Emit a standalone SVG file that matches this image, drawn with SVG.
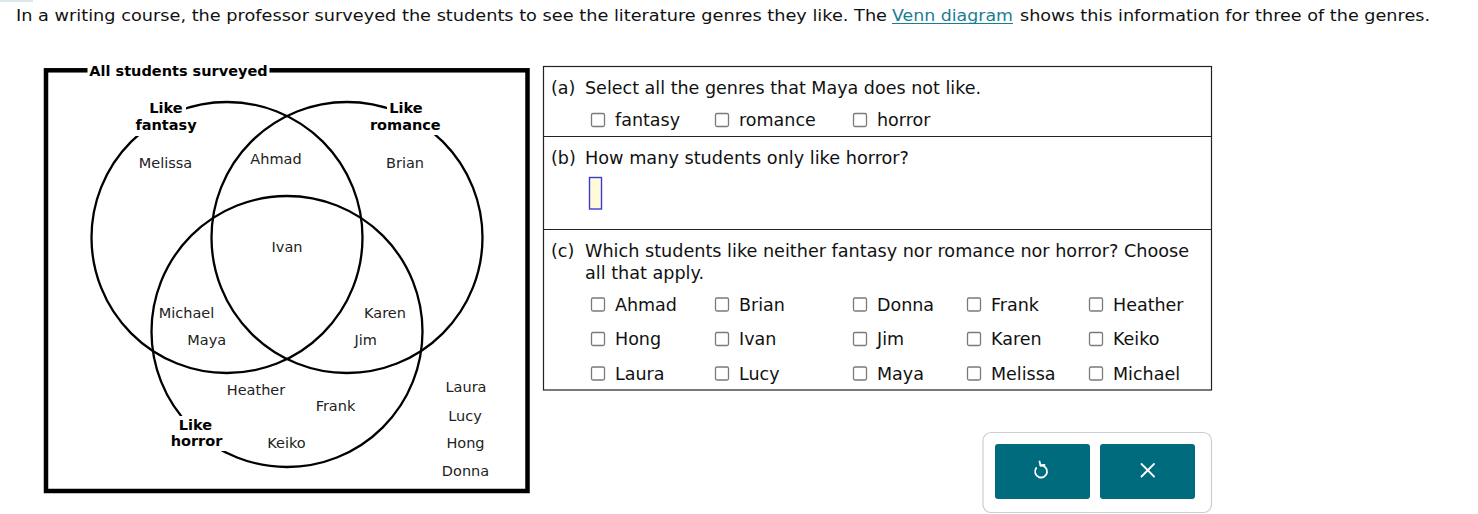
<svg xmlns="http://www.w3.org/2000/svg" width="1478" height="514" viewBox="0 0 1478 514">
<style>
.t{font-family:"DejaVu Sans","Liberation Sans",sans-serif;fill:#111}
.hd{font-size:16.5px}
.nm{font-size:14.5px;fill:#222;text-anchor:middle}
.lb{font-size:14.5px;font-weight:bold;fill:#000;text-anchor:middle}
.pn{font-size:17.5px;fill:#111}
.set{fill:none;stroke:#000;stroke-width:2.3}
.cb{fill:#fff;stroke:#7a7a7a;stroke-width:1.3}
.bg{fill:#fff}
.btn{fill:#006b7c}
.ic{fill:none;stroke:#fff;stroke-width:1.8;stroke-linecap:round;stroke-linejoin:round}
</style>
<rect x="0" y="0" width="1478" height="514" fill="#fff"/>
<rect x="0" y="0" width="33" height="2" fill="#dde6ea"/>

<g id="header">
<text class="t hd" x="16" y="20.5" textLength="871" lengthAdjust="spacingAndGlyphs">In a writing course, the professor surveyed the students to see the literature genres they like. The</text>
<text class="t hd" x="892" y="20.5" textLength="121" lengthAdjust="spacingAndGlyphs" style="fill:#1a7d92">Venn diagram</text>
<line x1="892" y1="23.5" x2="1013" y2="23.5" stroke="#1a7d92" stroke-width="1.2"/>
<text class="t hd" x="1020" y="20.5" textLength="410" lengthAdjust="spacingAndGlyphs">shows this information for three of the genres.</text>
</g>

<g id="venn">
<g id="universe">
<rect x="46" y="70.3" width="481.5" height="420.7" fill="none" stroke="#000" stroke-width="4.5"/>
<rect class="bg" x="87.5" y="62" width="182" height="17"/>
<text class="t lb" x="178.5" y="75.7">All students surveyed</text>
</g>
<g id="connectors">
<circle class="set" cx="227" cy="237.5" r="135.5"/>
<circle class="set" cx="347" cy="237.5" r="135.5"/>
<circle class="set" cx="287" cy="331.5" r="135.5"/>
</g>
<g id="set-fantasy">
<rect class="bg" x="146" y="99" width="40" height="19"/>
<rect class="bg" x="133" y="117" width="66" height="19"/>
<text class="t lb" x="166" y="113.3">Like</text>
<text class="t lb" x="166" y="130">fantasy</text>
</g>
<g id="set-romance">
<rect class="bg" x="387" y="99" width="38" height="19"/>
<rect class="bg" x="367" y="117" width="77" height="18"/>
<text class="t lb" x="406" y="113.3">Like</text>
<text class="t lb" x="405.3" y="130">romance</text>
</g>
<g id="set-horror">
<rect class="bg" x="176" y="416" width="39" height="19"/>
<rect class="bg" x="168" y="434" width="58" height="17"/>
<text class="t lb" x="195.5" y="430">Like</text>
<text class="t lb" x="196.5" y="446">horror</text>
</g>
<g id="n-melissa"><text class="t nm" x="165.5" y="168">Melissa</text></g>
<g id="n-ahmad"><text class="t nm" x="276" y="164.3">Ahmad</text></g>
<g id="n-brian"><text class="t nm" x="405" y="168">Brian</text></g>
<g id="n-ivan"><text class="t nm" x="287" y="252">Ivan</text></g>
<g id="n-michael"><text class="t nm" x="186.5" y="317.7">Michael</text></g>
<g id="n-maya"><text class="t nm" x="206.7" y="345">Maya</text></g>
<g id="n-karen"><text class="t nm" x="385" y="317.7">Karen</text></g>
<g id="n-jim"><text class="t nm" x="365.7" y="345">Jim</text></g>
<g id="n-heather"><text class="t nm" x="256" y="395">Heather</text></g>
<g id="n-frank"><text class="t nm" x="335.5" y="410.7">Frank</text></g>
<g id="n-keiko"><text class="t nm" x="286.5" y="447.7">Keiko</text></g>
<g id="n-laura"><text class="t nm" x="466" y="391.7">Laura</text></g>
<g id="n-lucy"><text class="t nm" x="465" y="420.5">Lucy</text></g>
<g id="n-hong"><text class="t nm" x="465.5" y="447.7">Hong</text></g>
<g id="n-donna"><text class="t nm" x="465.5" y="475.7">Donna</text></g>
</g>

<g id="questions">
<rect x="543.5" y="66.5" width="668" height="323.5" fill="#fff" stroke="#222" stroke-width="1.2"/>
<line x1="543.5" y1="136.5" x2="1211.5" y2="136.5" stroke="#222" stroke-width="1.2"/>
<line x1="543.5" y1="229.5" x2="1211.5" y2="229.5" stroke="#222" stroke-width="1.2"/>

<g id="q-a">
<text class="t pn" x="551" y="93.5">(a)</text>
<text class="t pn" x="585" y="93.5" textLength="396" lengthAdjust="spacingAndGlyphs">Select all the genres that Maya does not like.</text>
<rect class="cb" x="591.5" y="113.5" width="13" height="13" rx="1.5"/>
<text class="t pn" x="615" y="126">fantasy</text>
<rect class="cb" x="715.5" y="113.5" width="13" height="13" rx="1.5"/>
<text class="t pn" x="739" y="126">romance</text>
<rect class="cb" x="853.5" y="113.5" width="13" height="13" rx="1.5"/>
<text class="t pn" x="877" y="126">horror</text>
</g>

<g id="q-b">
<text class="t pn" x="551" y="163.5">(b)</text>
<text class="t pn" x="585" y="163.5" textLength="324" lengthAdjust="spacingAndGlyphs">How many students only like horror?</text>
<rect x="589.5" y="177.5" width="12" height="31.5" fill="#fffbd8" stroke="#3b3bd0" stroke-width="1.4"/>
</g>

<g id="q-c">
<text class="t pn" x="551" y="256.7">(c)</text>
<text class="t pn" x="585" y="256.7" textLength="604" lengthAdjust="spacingAndGlyphs">Which students like neither fantasy nor romance nor horror? Choose</text>
<text class="t pn" x="585" y="278.5" textLength="119" lengthAdjust="spacingAndGlyphs">all that apply.</text>

<rect class="cb" x="591.5" y="298" width="13" height="13" rx="1.5"/><text class="t pn" x="615" y="310.5">Ahmad</text>
<rect class="cb" x="715.5" y="298" width="13" height="13" rx="1.5"/><text class="t pn" x="739" y="310.5">Brian</text>
<rect class="cb" x="853.5" y="298" width="13" height="13" rx="1.5"/><text class="t pn" x="877" y="310.5">Donna</text>
<rect class="cb" x="967.5" y="298" width="13" height="13" rx="1.5"/><text class="t pn" x="991" y="310.5">Frank</text>
<rect class="cb" x="1089.5" y="298" width="13" height="13" rx="1.5"/><text class="t pn" x="1113" y="310.5">Heather</text>

<rect class="cb" x="591.5" y="332.5" width="13" height="13" rx="1.5"/><text class="t pn" x="615" y="345">Hong</text>
<rect class="cb" x="715.5" y="332.5" width="13" height="13" rx="1.5"/><text class="t pn" x="739" y="345">Ivan</text>
<rect class="cb" x="853.5" y="332.5" width="13" height="13" rx="1.5"/><text class="t pn" x="877" y="345">Jim</text>
<rect class="cb" x="967.5" y="332.5" width="13" height="13" rx="1.5"/><text class="t pn" x="991" y="345">Karen</text>
<rect class="cb" x="1089.5" y="332.5" width="13" height="13" rx="1.5"/><text class="t pn" x="1113" y="345">Keiko</text>

<rect class="cb" x="591.5" y="367" width="13" height="13" rx="1.5"/><text class="t pn" x="615" y="379.5">Laura</text>
<rect class="cb" x="715.5" y="367" width="13" height="13" rx="1.5"/><text class="t pn" x="739" y="379.5">Lucy</text>
<rect class="cb" x="853.5" y="367" width="13" height="13" rx="1.5"/><text class="t pn" x="877" y="379.5">Maya</text>
<rect class="cb" x="967.5" y="367" width="13" height="13" rx="1.5"/><text class="t pn" x="991" y="379.5">Melissa</text>
<rect class="cb" x="1089.5" y="367" width="13" height="13" rx="1.5"/><text class="t pn" x="1113" y="379.5">Michael</text>
</g>
</g>

<g id="buttons">
<rect x="983" y="432.5" width="228.5" height="80" rx="8" fill="#fff" stroke="#c7d0d5" stroke-width="1.2"/>
<g id="btn-undo">
<rect class="btn" x="995" y="444" width="95" height="55" rx="3"/>
<path class="ic" d="M1040.5 465.5 A6 6 0 1 1 1036.2 468"/>
<path class="ic" d="M1039.5 461.5 L1040.5 465.5 L1044.5 464.8"/>
</g>
<g id="btn-clear">
<rect class="btn" x="1100" y="444" width="95" height="55" rx="3"/>
<path class="ic" d="M1141.5 464 L1154 476.5 M1154 464 L1141.5 476.5"/>
</g>
</g>
</svg>
